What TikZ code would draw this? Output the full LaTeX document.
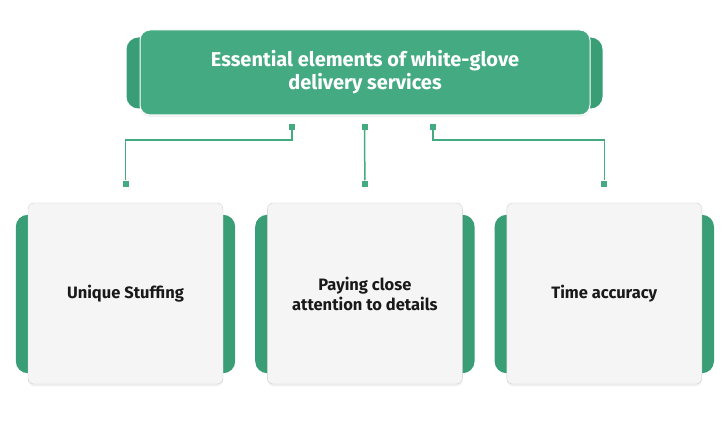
\documentclass[tikz,border=0pt]{standalone}
\usepackage{fontspec}
\setmainfont{Fira Sans}
\usetikzlibrary{positioning,backgrounds,shadows}
\definecolor{leaf}{RGB}{67,170,130}
\definecolor{leafdark}{RGB}{57,158,118}
\definecolor{paper}{RGB}{245,245,245}

\begin{document}
\begin{tikzpicture}[x=1pt, y=-1pt, node distance=44pt]
\tikzset{
  headbox/.style={fill=leaf, draw=white, line width=1pt, rounded corners=10pt, minimum width=450pt, minimum height=85pt, align=center, text=white, font=\bfseries\fontsize{20}{23}\selectfont, drop shadow={opacity=0.12, shadow xshift=0pt, shadow yshift=-2pt}},
  cardbox/.style={fill=paper, draw=black!18, rounded corners=6pt, minimum width=195pt, minimum height=181pt, align=center, text=black!90, font=\bfseries\fontsize{16.5}{20}\selectfont, drop shadow={opacity=0.12, shadow xshift=0pt, shadow yshift=-2pt}},
  tab/.style={fill=leafdark, rounded corners=12pt},
  dot/.style={fill=leaf, minimum size=6pt, inner sep=0pt},
  link/.style={draw=leaf, line width=1.5pt}
}
\useasboundingbox (0,0) rectangle (728,433);

% Nodes
\node[headbox] (head) at (365,72.5) {Essential elements of white-glove\\delivery services};
\node[cardbox] (stuff) at (125.5,293.5) {Unique Stuffing};
\node[cardbox, right=of stuff] (detail) {Paying close\\attention to details};
\node[cardbox, right=of detail] (time) {Time accuracy};

% Side tabs
\begin{scope}[on background layer]
\path[tab] ([xshift=-13pt,yshift=-8pt]head.north west) rectangle ([xshift=12pt,yshift=7pt]head.south east);
\foreach \n in {stuff,detail,time}
  \path[tab] ([xshift=-12pt,yshift=-12pt]\n.north west) rectangle ([xshift=12pt,yshift=11pt]\n.south east);
\end{scope}

% Connector ends
\node[dot] (t1) at (292,127) {};
\node[dot] (t2) at (364.5,127) {};
\node[dot] (t3) at (433,127) {};
\node[dot, above=16pt of stuff] (b1) {};
\node[dot, above=16pt of detail] (b2) {};
\node[dot, above=16pt of time] (b3) {};

% Links
\draw[link] (t1) -- ++(0,13) -| (b1);
\draw[link] (t2) -- (b2);
\draw[link] (t3) -- ++(0,13) -| (b3);
\end{tikzpicture}
\end{document}
